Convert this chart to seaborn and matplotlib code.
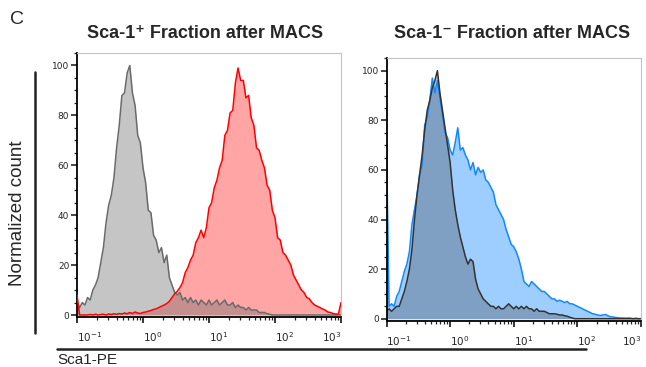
import numpy as np
import pandas as pd
import seaborn as sns
import matplotlib.pyplot as plt
from matplotlib.ticker import LogLocator, MultipleLocator, NullFormatter

# histogram bins in log10 units (0.04 decade wide), 10^-1 .. 10^3
log_bins = np.round(np.arange(-1.0, 3.0001, 0.04), 2)

# Sca-1+ fraction: isotype control (grey) and Sca1-PE (red)
plus_ctrl = [5, 3, 5, 4, 7, 6, 10, 12, 15, 21,
             27, 37, 44, 48, 55, 67, 76, 88, 89, 97,
             100, 89, 84, 72, 69, 59, 53, 42, 41, 32,
             30, 25, 27, 21, 24, 15, 12, 9, 8, 9,
             6, 7, 5, 7, 5, 6, 4, 6, 5, 4,
             6, 4, 5, 6, 4, 5, 6, 4, 4, 5,
             3, 4, 3, 3, 2, 3, 2, 2, 2, 1,
             1, 1, 0.5, 0.3, 0, 0, 0, 0, 0, 0,
             0, 0, 0, 0, 0, 0, 0, 0, 0, 0,
             0, 0, 0, 0, 0, 0, 0, 0, 0, 0,
             0]
plus_sca1 = [8, 0, 0, 0, 0, 0.2, 0, 0.3, 0, 0.2,
             0.3, 0, 0.4, 0.2, 0.5, 0.3, 0.6, 0.4, 0.8, 0.5,
             1.0, 0.6, 1.2, 0.8, 0.6, 1.0, 1.2, 1.5, 1.8, 2.2,
             2.5, 3.0, 3.5, 4.0, 4.6, 5.5, 7, 8.5, 9.5, 11,
             13, 17, 19, 22, 24, 29, 31, 34, 31, 35,
             43, 45, 51, 54, 59, 62, 72, 74, 81, 82,
             93, 99, 94, 94, 87, 88, 79, 76, 67, 66,
             62, 59, 52, 50, 42, 39, 31, 30, 25, 24,
             22, 20, 16, 14, 12, 10, 9, 7, 6.5, 5,
             4, 3.5, 3, 2.4, 2, 1.2, 1, 0.6, 0.4, 0.3,
             5]

# Sca-1- fraction: Sca1-PE (blue) and isotype control (dark grey)
minus_sca1 = [71, 5, 6, 5, 9, 11, 15, 19, 22, 27,
              38, 44, 50, 58, 62, 78, 81, 88, 97, 91,
              96, 89, 82, 75, 73, 68, 66, 71, 77, 68,
              69, 66, 64, 60, 63, 58, 61, 59, 60, 56,
              55, 53, 51, 46, 44, 42, 40, 36, 33, 30,
              29, 27, 24, 20, 15, 14, 13, 15, 14, 13,
              12, 11, 11, 10, 9, 8, 8, 7, 7.5, 7,
              6.5, 7, 6, 6, 5.5, 5, 4.5, 4, 3.5, 3,
              2.5, 2, 1.8, 1.5, 1.3, 1.5, 1.7, 1.2, 0.8, 0.7,
              0.5, 0.4, 0.3, 0.3, 0.2, 0.3, 0.2, 0, 0.2, 0,
              0]
minus_ctrl = [3, 4, 3, 4, 5, 5, 8, 11, 15, 20,
              28, 40, 50, 58, 66, 76, 84, 88, 93, 96,
              100, 91, 84, 77, 70, 63, 52, 44, 38, 33,
              29, 25, 22, 24, 23, 16, 12, 10, 8, 7,
              6, 5, 5, 4, 5, 4, 4, 5, 6, 5,
              4, 5, 4, 5, 4, 5, 4, 4, 3, 4,
              3, 3, 3, 2.5, 2, 2, 2, 1.8, 1.5, 1.5,
              1.2, 1, 0.6, 0.3, 0, 0, 0, 0, 0, 0,
              0, 0, 0, 0, 0, 0, 0, 0, 0, 0,
              0, 0, 0, 0, 0, 0, 0, 0, 0, 0,
              0]

decade_ticks = [0.1, 1, 10, 100, 1000]
decade_labels = ["$10^{-1}$", "$10^{0}$", "$10^{1}$", "$10^{2}$", "$10^{3}$"]

sns.set_theme(style="ticks")
plt.rcParams['font.family'] = ['Liberation Sans', 'DejaVu Sans']
plt.rcParams['mathtext.fontset'] = 'dejavusans'

x = 10 ** log_bins
df = pd.DataFrame({'x': x,
                   'plus_ctrl': plus_ctrl, 'plus_sca1': plus_sca1,
                   'minus_sca1': minus_sca1, 'minus_ctrl': minus_ctrl})

fig = plt.figure(figsize=(6.46, 3.67), dpi=100)
ax1 = fig.add_axes([77 / 646, 50 / 367, 264 / 646, 264 / 367])
ax2 = fig.add_axes([386.5 / 646, 46.3 / 367, 254.5 / 646, 262.4 / 367])


def draw_hist(ax, col, fill, fill_alpha, line):
    ax.fill_between(df['x'], df[col], 0, color=fill, alpha=fill_alpha, lw=0)
    sns.lineplot(data=df, x='x', y=col, ax=ax, color=line, lw=1.1,
                 estimator=None, sort=False)


# left panel: red first, grey on top
draw_hist(ax1, 'plus_sca1', '#ff2a2a', 0.42, '#ff0000')
draw_hist(ax1, 'plus_ctrl', '#707070', 0.40, '#6a6a6a')
ax1.lines[-1].set_zorder(2)
ax1.lines[0].set_zorder(3)

# right panel: blue first, dark grey on top
draw_hist(ax2, 'minus_sca1', '#1e8fff', 0.43, '#1188ff')
draw_hist(ax2, 'minus_ctrl', '#383838', 0.30, '#333333')

for ax in (ax1, ax2):
    ax.set_xscale('log')
    ax.set_xlim(0.1, 1000)
    ax.set_ylim(-0.8, 105)
    ax.set_xticks(decade_ticks)
    ax.set_xticklabels(decade_labels, fontsize=7.5, family='DejaVu Sans')
    for i, lab in enumerate(ax.get_xticklabels()):
        lab.set_ha('right' if i == len(decade_ticks) - 1 else 'left')
    ax.xaxis.set_minor_locator(LogLocator(base=10, subs=range(2, 10)))
    ax.xaxis.set_minor_formatter(NullFormatter())
    ax.yaxis.set_major_locator(MultipleLocator(20))
    ax.yaxis.set_minor_locator(MultipleLocator(5))
    ax.tick_params(axis='y', labelsize=6.5, length=4, width=1.2, pad=1.5)
    ax.tick_params(axis='x', length=4.5, width=1.3, pad=5)
    ax.tick_params(which='minor', length=2.5, width=0.9)
    for lab in ax.get_yticklabels():
        lab.set_family('DejaVu Sans')
    ax.set_xlabel('')
    ax.set_ylabel('')
    for s in ('top', 'right'):
        ax.spines[s].set_color('#c4c4c4')
        ax.spines[s].set_linewidth(0.8)
    for s in ('left', 'bottom'):
        ax.spines[s].set_color('black')
        ax.spines[s].set_linewidth(1.3)

fig.text(10 / 646, 1 - 20 / 367, 'C', fontsize=14, va='center', ha='left')
fig.text(205 / 646, 1 - 33 / 367, 'Sca-1\u207a Fraction after MACS',
         fontsize=13, fontweight='bold', ha='center', va='center')
fig.text(512 / 646, 1 - 33 / 367, 'Sca-1\u207b Fraction after MACS',
         fontsize=13, fontweight='bold', ha='center', va='center')
fig.text(18 / 646, 1 - 213 / 367, 'Normalized count', fontsize=13.5,
         rotation=90, ha='center', va='center')
fig.text(57 / 646, 1 - 360 / 367, 'Sca1-PE', fontsize=11,
         ha='left', va='center')

fig.add_artist(plt.Line2D([35 / 646, 35 / 646], [1 - 72 / 367, 1 - 333 / 367],
                          color='#222222', lw=1.8))
fig.add_artist(plt.Line2D([57 / 646, 586 / 646], [1 - 349 / 367, 1 - 349 / 367],
                          color='#222222', lw=1.8))

fig.savefig('out.png', dpi=100)
